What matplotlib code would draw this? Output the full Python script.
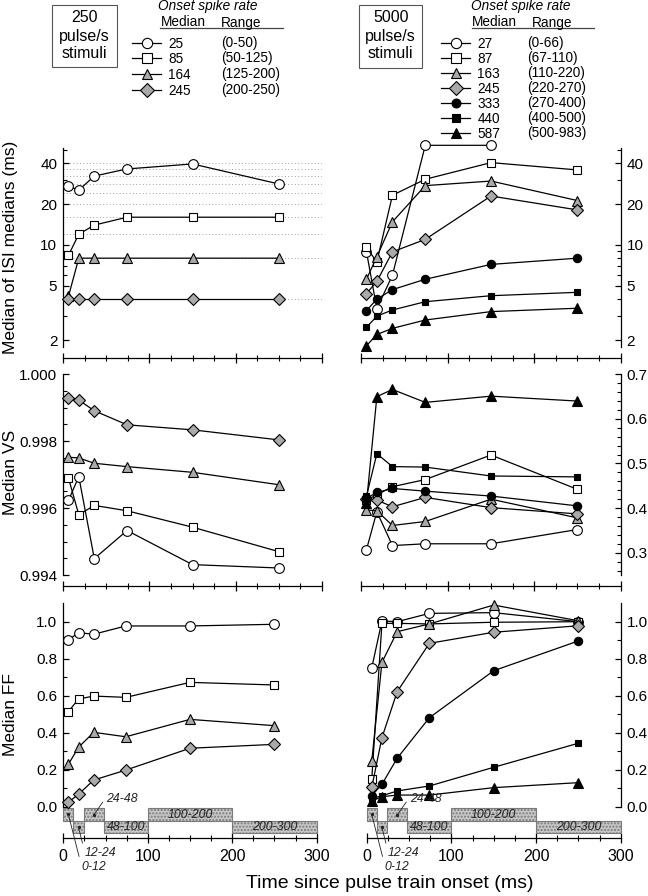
import matplotlib
matplotlib.use('Agg')
import matplotlib.pyplot as plt
from matplotlib.patches import Rectangle
from matplotlib.ticker import FixedLocator, NullFormatter, FixedFormatter

plt.rcParams['font.family'] = ['Liberation Sans', 'DejaVu Sans']

# ---------------- data ----------------
time_ms = [6, 18, 36, 74, 150, 250]

# 250 pulse/s stimuli
g250_median = ['25', '85', '164', '245']
g250_range = ['(0-50)', '(50-125)', '(125-200)', '(200-250)']
isi_250 = [
    [27.0, 25.3, 32.1, 36.2, 39.4, 28.1],
    [8.4, 12.0, 14.0, 16.0, 16.0, 16.0],
    [4.2, 8.0, 8.0, 8.0, 8.0, 8.0],
    [4.0, 4.0, 4.0, 4.0, 4.0, 4.0],
]
vs_250 = [
    [0.99623, 0.99694, 0.99449, 0.99533, 0.99431, 0.99421],
    [0.99690, 0.99580, 0.99608, 0.99592, 0.99543, 0.99470],
    [0.99752, 0.99750, 0.99734, 0.99724, 0.99707, 0.99670],
    [0.99930, 0.99923, 0.99891, 0.99849, 0.99834, 0.99804],
]
ff_250 = [
    [0.901, 0.941, 0.932, 0.977, 0.977, 0.986],
    [0.514, 0.582, 0.598, 0.591, 0.672, 0.658],
    [0.229, 0.321, 0.402, 0.378, 0.472, 0.438],
    [0.024, 0.067, 0.144, 0.198, 0.316, 0.337],
]

# 5000 pulse/s stimuli
g5000_median = ['27', '87', '163', '245', '333', '440', '587']
g5000_range = ['(0-66)', '(67-110)', '(110-220)', '(220-270)', '(270-400)', '(400-500)', '(500-983)']
isi_5000 = [
    [8.9, 3.4, 6.0, 54.0, 54.0, None],
    [9.6, 7.5, 23.2, 30.4, 40.3, 35.6],
    [5.6, 8.2, 14.8, 27.3, 29.5, 21.2],
    [4.4, 5.4, 8.9, 11.0, 22.9, 18.1],
    [3.3, 4.0, 4.7, 5.6, 7.2, 8.0],
    [2.48, 3.0, 3.33, 3.83, 4.24, 4.49],
    [1.82, 2.2, 2.44, 2.81, 3.24, 3.43],
]
vs_5000 = [
    [0.307, 0.392, 0.316, 0.320, 0.320, 0.352],
    [0.418, 0.430, 0.448, 0.464, 0.519, 0.442],
    [0.396, 0.394, 0.361, 0.370, 0.420, 0.378],
    [0.420, 0.418, 0.403, 0.424, 0.401, 0.387],
    [0.422, 0.435, 0.444, 0.438, 0.427, 0.405],
    [0.427, 0.522, 0.493, 0.492, 0.472, 0.470],
    [0.412, 0.650, 0.666, 0.637, 0.651, 0.640],
]
ff_5000 = [
    [0.751, 1.004, 1.000, 1.045, 1.049, 1.000],
    [0.150, 0.991, 0.991, 0.988, 0.997, 1.000],
    [0.247, 0.780, 0.946, 0.988, 1.090, 1.005],
    [0.105, 0.373, 0.622, 0.883, 0.943, 0.978],
    [0.060, 0.121, 0.262, 0.481, 0.735, 0.896],
    [0.045, 0.059, 0.085, 0.112, 0.213, 0.343],
    [0.031, 0.054, 0.063, 0.063, 0.103, 0.130],
]

isi_period_multiples = [4, 8, 12, 16, 20, 24, 28, 32, 36, 40]

win_start = [0, 12, 24, 48, 100, 200]
win_end = [12, 24, 48, 100, 200, 300]
win_label = ['0-12', '12-24', '24-48', '48-100', '100-200', '200-300']

# ---------------- styles ----------------
GRAY = '#a9a9a9'
style_250 = [
    dict(marker='o', mfc='white', ms=7.0),
    dict(marker='s', mfc='white', ms=6.3),
    dict(marker='^', mfc=GRAY, ms=7.2),
    dict(marker='D', mfc=GRAY, ms=6.3),
]
style_5000 = [
    dict(marker='o', mfc='white', ms=7.0),
    dict(marker='s', mfc='white', ms=6.3),
    dict(marker='^', mfc=GRAY, ms=7.2),
    dict(marker='D', mfc=GRAY, ms=6.3),
    dict(marker='o', mfc='black', ms=6.0),
    dict(marker='s', mfc='black', ms=4.8),
    dict(marker='^', mfc='black', ms=7.2),
]

W, H = 648, 896
fig = plt.figure(figsize=(W / 100, H / 100), dpi=100)
PX = 72 / 100.0  # points per pixel

TICK_FS = 11
LABEL_FS = 12.5


def ax_at(x0, x1, ytop, ybot):
    return fig.add_axes([x0 / W, 1 - ybot / H, (x1 - x0) / W, (ybot - ytop) / H])


def style_axes(ax, side, outward_px):
    for s in ['top', 'right', 'left']:
        ax.spines[s].set_visible(False)
    ax.spines[side].set_visible(True)
    ax.spines['bottom'].set_position(('outward', outward_px * PX))
    for s in ax.spines.values():
        s.set_linewidth(0.9)
    ax.set_xlim(0, 300)
    ax.xaxis.set_major_locator(FixedLocator([0, 100, 200, 300]))
    ax.xaxis.set_minor_locator(FixedLocator([25, 50, 75, 125, 150, 175, 225, 250, 275]))
    ax.tick_params(axis='x', which='major', direction='inout', length=7, width=0.9,
                   labelsize=TICK_FS + 0.5, pad=3)
    ax.tick_params(axis='x', which='minor', direction='inout', length=4, width=0.8)
    ax.yaxis.set_ticks_position(side)
    ax.tick_params(axis='y', which='major', direction='in', length=4.5, width=0.9,
                   labelsize=TICK_FS, pad=4.3)
    ax.tick_params(axis='y', which='minor', direction='in', length=2.7, width=0.8)
    if side == 'right':
        ax.yaxis.set_label_position('right')
    ax.patch.set_alpha(0)


def draw_series(ax, values, styles):
    for vals, st in zip(values, styles):
        xs = [t for t, v in zip(time_ms, vals) if v is not None]
        ys = [v for v in vals if v is not None]
        ax.plot(xs, ys, color='black', lw=0.9, marker=st['marker'], ms=st['ms'],
                mfc=st['mfc'], mec='black', mew=0.8, clip_on=False, zorder=3)


def isi_axes(ax):
    ax.set_yscale('log')
    ax.set_ylim(1.78, 51.6)
    ax.yaxis.set_major_locator(FixedLocator([2, 5, 10, 20, 40]))
    ax.yaxis.set_major_formatter(FixedFormatter(['2', '5', '10', '20', '40']))
    ax.yaxis.set_minor_locator(FixedLocator([3, 4, 6, 7, 8, 9, 30, 50]))
    ax.yaxis.set_minor_formatter(NullFormatter())
    ax.xaxis.set_major_formatter(NullFormatter())


# ---------- top row (ISI) ----------
ax1 = ax_at(63.3, 321.7, 148, 347)
style_axes(ax1, 'left', 11)
isi_axes(ax1)
for m in isi_period_multiples:
    ax1.axhline(m, color='#a0a0a0', lw=0.7, ls=(0, (1, 2.4)), zorder=1)
draw_series(ax1, isi_250, style_250)

ax2 = ax_at(361.3, 620.7, 148, 347)
style_axes(ax2, 'right', 11)
isi_axes(ax2)
draw_series(ax2, isi_5000, style_5000)

# ---------- middle row (VS) ----------
ax3 = ax_at(63.3, 321.7, 374.3, 575)
style_axes(ax3, 'left', 11)
ax3.set_ylim(0.994, 1.000)
ax3.yaxis.set_major_locator(FixedLocator([0.994, 0.996, 0.998, 1.000]))
ax3.yaxis.set_major_formatter(FixedFormatter(['0.994', '0.996', '0.998', '1.000']))
ax3.yaxis.set_minor_locator(FixedLocator([0.9945, 0.995, 0.9955, 0.9965, 0.997, 0.9975,
                                          0.9985, 0.999, 0.9995]))
ax3.xaxis.set_major_formatter(NullFormatter())
draw_series(ax3, vs_250, style_250)

ax4 = ax_at(361.3, 620.7, 374.3, 575)
style_axes(ax4, 'right', 11)
ax4.set_ylim(0.25, 0.70)
ax4.yaxis.set_major_locator(FixedLocator([0.3, 0.4, 0.5, 0.6, 0.7]))
ax4.yaxis.set_major_formatter(FixedFormatter(['0.3', '0.4', '0.5', '0.6', '0.7']))
ax4.yaxis.set_minor_locator(FixedLocator([0.26, 0.28, 0.32, 0.34, 0.36, 0.38, 0.42, 0.44,
                                          0.46, 0.48, 0.52, 0.54, 0.56, 0.58, 0.62, 0.64,
                                          0.66, 0.68]))
ax4.xaxis.set_major_formatter(NullFormatter())
draw_series(ax4, vs_5000, style_5000)

# ---------- bottom row (FF) ----------
def ff_axes(ax):
    ax.set_ylim(0.0, 1.1)
    ax.yaxis.set_major_locator(FixedLocator([0.0, 0.2, 0.4, 0.6, 0.8, 1.0]))
    ax.yaxis.set_major_formatter(FixedFormatter(['0.0', '0.2', '0.4', '0.6', '0.8', '1.0']))
    ax.yaxis.set_minor_locator(FixedLocator([0.1, 0.3, 0.5, 0.7, 0.9]))
    ax.xaxis.set_major_formatter(FixedFormatter(['0', '100', '200', '300']))
    ax.tick_params(axis='x', which='major', pad=4)


def window_bars(ax):
    upper = (-0.076, 0.067)
    lower = (-0.144, 0.068)
    for i, (a, b, lab) in enumerate(zip(win_start, win_end, win_label)):
        y0, h = upper if i % 2 == 0 else lower
        r = Rectangle((a, y0), b - a, h, facecolor='#c6c6c6', edgecolor='#7a7a7a',
                      lw=0.8, hatch='.....', clip_on=False, zorder=2)
        ax.add_patch(r)
        if b - a >= 50:
            ax.text((a + b) / 2, y0 + h / 2, lab, ha='center', va='center',
                    fontsize=8.8, style='italic', color='#222222', zorder=4, clip_on=False)
    # annotated small windows
    ann = [
        (win_label[2], (36, -0.045), (51, 0.040), 'left', 'center'),
        (win_label[1], (18, -0.112), (25, -0.252), 'left', 'center'),
        (win_label[0], (6, -0.042), (21, -0.324), 'left', 'center'),
    ]
    for lab, pt, txt, ha, va in ann:
        ax.annotate(lab, xy=pt, xytext=txt, ha=ha, va=va, fontsize=8.8, style='italic',
                    color='#222222', annotation_clip=False,
                    arrowprops=dict(arrowstyle='-', lw=0.6, color='#222222',
                                    shrinkA=1, shrinkB=0, relpos=(0, 0.7)),
                    zorder=4)
        ax.plot([pt[0]], [pt[1]], marker='o', ms=1.4, color='#222222', clip_on=False, zorder=5)


ax5 = ax_at(63.3, 316.7, 603.2, 806.7)
style_axes(ax5, 'left', 31.4)
ff_axes(ax5)
window_bars(ax5)
draw_series(ax5, ff_250, style_250)

ax6 = ax_at(366.7, 620.7, 603.2, 806.7)
style_axes(ax6, 'right', 31.4)
ff_axes(ax6)
window_bars(ax6)
draw_series(ax6, ff_5000, style_5000)

# ---------- axis labels ----------
YL_X = 10.5
fig.text(YL_X / W, 1 - 247 / H, 'Median of ISI medians (ms)', rotation=90, ha='center',
         va='center', fontsize=LABEL_FS)
fig.text(YL_X / W, 1 - 472 / H, 'Median VS', rotation=90, ha='center', va='center',
         fontsize=LABEL_FS)
fig.text(YL_X / W, 1 - 715 / H, 'Median FF', rotation=90, ha='center', va='center',
         fontsize=LABEL_FS)
fig.text(390 / W, 1 - 883 / H, 'Time since pulse train onset (ms)', ha='center',
         va='center', fontsize=14)

# ---------- legends ----------
lg = fig.add_axes([0, 0, 1, 1])
lg.set_xlim(0, W)
lg.set_ylim(H, 0)
lg.axis('off')
lg.patch.set_alpha(0)

LEG_FS = 9.8


def legend_block(box, box_lines, title_x, med_x, rng_x, rule, line_x, num_x, range_x,
                 row_y0, row_dy, medians, ranges, styles):
    bx0, by0, bx1, by1 = box
    lg.add_patch(Rectangle((bx0, by0), bx1 - bx0, by1 - by0, fill=False, lw=0.8,
                           edgecolor='#555555'))
    cx = (bx0 + bx1) / 2
    for k, t in enumerate(box_lines):
        lg.text(cx, by0 + 13 + k * 18, t, ha='center', va='center', fontsize=11.5)
    lg.text(title_x, 6, 'Onset spike rate', ha='left', va='center', fontsize=LEG_FS,
            style='italic')
    lg.text(med_x, 22.5, 'Median', ha='left', va='center', fontsize=LEG_FS)
    lg.text(rng_x, 22.5, 'Range', ha='left', va='center', fontsize=LEG_FS)
    lg.plot([rule[0], rule[1]], [28, 28], color='#444444', lw=0.9)
    for k, (m, r, st) in enumerate(zip(medians, ranges, styles)):
        y = row_y0 + k * row_dy
        lg.plot([line_x[0], line_x[1]], [y, y], color='black', lw=0.9)
        lg.plot([(line_x[0] + line_x[1]) / 2], [y], marker=st['marker'], ms=st['ms'] + 0.4,
                mfc=st['mfc'], mec='black', mew=0.8, color='black')
        lg.text(num_x, y + 1, m, ha='left', va='center', fontsize=LEG_FS)
        lg.text(range_x, y, r, ha='left', va='center', fontsize=LEG_FS)


legend_block((52.3, 5, 116.7, 66.7), ['250', 'pulse/s', 'stimuli'], 158, 161, 221,
             (160, 283), (132, 161), 168, 221, 42.7, 15.7, g250_median, g250_range,
             style_250)
legend_block((359, 5, 422.3, 68.3), ['5000', 'pulse/s', 'stimuli'], 470.7, 472.3, 532.3,
             (472, 594), (441.3, 470), 477.3, 527.3, 42.7, 15.1, g5000_median,
             g5000_range, style_5000)

fig.savefig('out.png', dpi=100)
